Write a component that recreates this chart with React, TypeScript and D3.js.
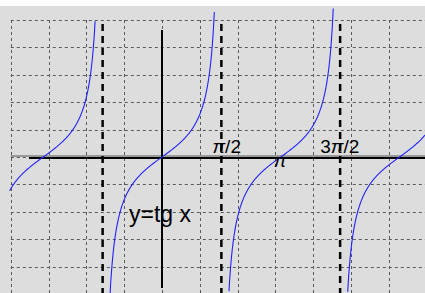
import * as d3 from "d3";

const gridX = [-4, -3, -2, -1, 0, 1, 2, 3, 4, 5, 6, 7];
const gridY = [-5, -4, -3, -2, -1, 0, 1, 2, 3, 4, 5];
const asymptotes = [-Math.PI / 2, Math.PI / 2, (3 * Math.PI) / 2];
const branchFrom = [-4.03, -1.372, 1.772, 4.913];
const branchTo = [-1.77, 1.384, 4.53, 6.96];
const tickLabels = ["π/2", "π", "3π/2"];
const tickValues = [Math.PI / 2, Math.PI, (3 * Math.PI) / 2];

export default function App() {
  const width = 425;
  const height = 293;
  const x = d3.scaleLinear([-4, 7], [10.8, 426.6]);
  const y = d3.scaleLinear([-5, 5], [294, 20]);
  const line = d3
    .line<number>()
    .x((d) => x(d))
    .y((d) => y(Math.tan(d)));

  const branches = branchFrom.map((a, i) => {
    const b = branchTo[i];
    const n = 300;
    return d3.range(n + 1).map((k) => a + ((b - a) * k) / n);
  });

  const font = "'Liberation Sans', Arial, sans-serif";

  return (
    <svg
      width={width}
      height={height}
      style={{ position: "fixed", left: 0, top: 0, display: "block" }}
    >
      <rect x={0} y={0} width={width} height={height} fill="#ffffff" />
      <rect x={0} y={6} width={width} height={height - 6} fill="#dddddd" />
      <defs>
        <clipPath id="plot">
          <rect x={0} y={0} width={width} height={height} />
        </clipPath>
      </defs>
      <g stroke="#5a5a5a" strokeWidth={1} strokeDasharray="3,3" fill="none">
        {gridX.map((v) => (
          <line key={"gx" + v} x1={Math.round(x(v)) + 0.5} x2={Math.round(x(v)) + 0.5} y1={y(5)} y2={height} />
        ))}
        {gridY.map((v) => (
          <line key={"gy" + v} x1={x(-4)} x2={width} y1={Math.round(y(v)) + 0.5} y2={Math.round(y(v)) + 0.5} />
        ))}
      </g>
      {/* axes */}
      <line x1={x(-4)} x2={width} y1={y(0) - 1} y2={y(0) - 1} stroke="#999" strokeWidth={2} />
      <line x1={29} x2={width} y1={y(0) + 1} y2={y(0) + 1} stroke="#000" strokeWidth={2} />
      <line x1={x(0)} x2={x(0)} y1={30} y2={288} stroke="#000" strokeWidth={2} />
      {/* asymptotes */}
      <g stroke="#000" strokeWidth={2.5} strokeDasharray="7,5">
        {asymptotes.map((v, i) => (
          <line key={"as" + i} x1={x(v)} x2={x(v)} y1={24} y2={height} />
        ))}
      </g>
      <g clipPath="url(#plot)" fill="none" stroke="#2222ff" strokeWidth={1.1}>
        {branches.map((pts, i) => (
          <path key={"br" + i} d={line(pts) || ""} />
        ))}
      </g>
      <g fontFamily={font} fontSize={19} fill="#000">
        {tickLabels.map((t, i) => {
          const parts = t.split("π");
          const below = t === "π";
          const dx = below ? -7 : t === "π/2" ? -9 : -20;
          return (
            <text key={"tl" + i} x={x(tickValues[i]) + dx} y={below ? y(0) + 10 : y(0) - 4}>
              {parts[0]}
              <tspan fontStyle="italic">π</tspan>
              {parts[1]}
            </text>
          );
        })}
        <text x={129} y={222} fontSize={23}>
          y=tg x
        </text>
      </g>
    </svg>
  );
}
